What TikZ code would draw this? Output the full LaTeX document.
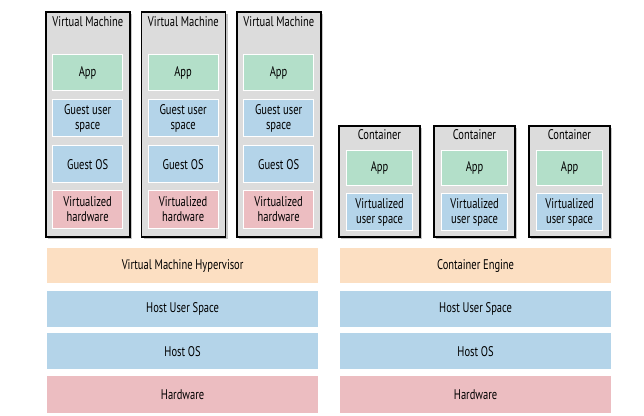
\documentclass[tikz,border=0pt]{standalone}
\usepackage{fontspec}
\setmainfont{PT Sans}[FakeStretch=0.75]
\usetikzlibrary{shadows}

\definecolor{appgreen}{HTML}{B3DFC9}
\definecolor{spaceblue}{HTML}{B4D4E9}
\definecolor{hwpink}{HTML}{ECBDC1}
\definecolor{enginepeach}{HTML}{FCDFC2}
\definecolor{boxgray}{HTML}{DCDCDC}

\tikzset{
  txt/.style={font=\fontsize{14}{15}\selectfont, align=center},
  outerbox/.style={draw=black, line width=1.8pt, fill=boxgray, anchor=north west,
    inner sep=0pt, drop shadow={shadow xshift=2.2pt, shadow yshift=-2.2pt, opacity=0.45}},
  layer/.style={txt, draw=white, line width=1.2pt, anchor=north west, inner sep=0pt},
}

\begin{document}
\begin{tikzpicture}[x=1pt,y=-1pt]
  \useasboundingbox (0,0) rectangle (644,415);

  % virtual machines
  \foreach \i/\x in {1/45,2/140.5,3/236}{
    \node[outerbox, minimum width=84pt, minimum height=225pt] (vm\i) at (\x,11) {};
    \node[txt, below=2.5pt] (vm\i title) at (vm\i.north) {Virtual Machine};
    \node[layer, fill=appgreen, minimum width=70pt, minimum height=36pt] (vm\i app) at (\x+7,54) {App};
    \node[layer, fill=spaceblue, minimum width=70pt, minimum height=37pt] (vm\i user) at (\x+7,99) {Guest user\\space};
    \node[layer, fill=spaceblue, minimum width=70pt, minimum height=37pt] (vm\i os) at (\x+7,145) {Guest OS};
    \node[layer, fill=hwpink, minimum width=70pt, minimum height=38pt] (vm\i hw) at (\x+7,190) {Virtualized\\hardware};
  }

  % containers
  \foreach \i/\x in {1/338,2/433,3/528}{
    \node[outerbox, minimum width=81pt, minimum height=111pt] (ct\i) at (\x,125) {};
    \node[txt, below=1pt] (ct\i title) at (ct\i.north) {Container};
    \node[layer, fill=appgreen, minimum width=66pt, minimum height=35pt] (ct\i app) at (\x+8,150) {App};
    \node[layer, fill=spaceblue, minimum width=66pt, minimum height=37pt] (ct\i user) at (\x+8,193) {Virtualized\\user space};
  }

  % host stacks
  \node[layer, fill=enginepeach, minimum width=272pt, minimum height=36pt] (hyper) at (46,247) {Virtual Machine Hypervisor};
  \node[layer, fill=spaceblue, minimum width=272pt, minimum height=37pt] (lhostuser) at (46,289.5) {Host User Space};
  \node[layer, fill=spaceblue, minimum width=272pt, minimum height=37pt] (lhostos) at (46,332) {Host OS};
  \node[layer, fill=hwpink, minimum width=272pt, minimum height=38pt] (lhw) at (46,375) {Hardware};

  \node[layer, fill=enginepeach, minimum width=272pt, minimum height=36pt] (engine) at (339,247) {Container Engine};
  \node[layer, fill=spaceblue, minimum width=272pt, minimum height=37pt] (rhostuser) at (339,289.5) {Host User Space};
  \node[layer, fill=spaceblue, minimum width=272pt, minimum height=37pt] (rhostos) at (339,332) {Host OS};
  \node[layer, fill=hwpink, minimum width=272pt, minimum height=38pt] (rhw) at (339,375) {Hardware};
\end{tikzpicture}
\end{document}
